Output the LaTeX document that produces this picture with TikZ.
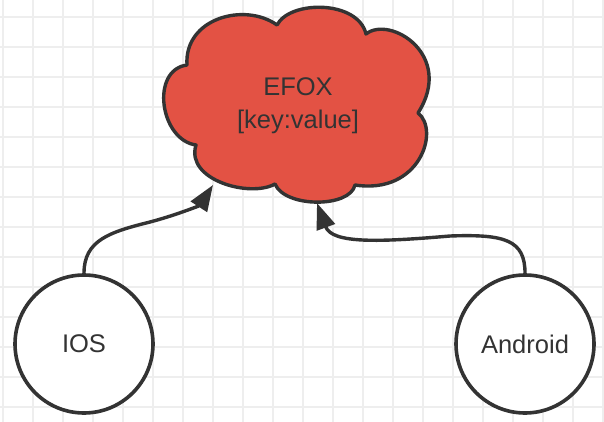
\documentclass[tikz,border=0pt]{standalone}
\usepackage{fontspec}
\setmainfont{Liberation Sans}
\usetikzlibrary{arrows.meta}
\definecolor{efoxred}{RGB}{227,82,68}
\definecolor{inkgray}{RGB}{51,51,51}
\definecolor{gridgray}{RGB}{238,238,238}
\tikzset{
  basenode/.style = {align=center, inner sep=0pt, text centered, text=inkgray,
    font=\fontsize{25.5}{33}\selectfont},
  dev_n/.style = {basenode, circle, draw=inkgray, fill=white, line width=3.6pt,
    minimum size=138pt},% client node
  efox_n/.style = {basenode},% text inside the cloud
  efox_c/.style = {fill=efoxred, draw=inkgray, line width=3.4pt,
    line join=round},% cloud outline
  link/.style = {-{Triangle[length=26pt,width=19pt]}, draw=inkgray,
    line width=3.4pt}% client to store
}

\begin{document}
\begin{tikzpicture}[x=1pt,y=-1pt]
\useasboundingbox (0,0) rectangle (604,422);
\fill[white] (0,0) rectangle (604,422);
% grid
\foreach \gx in {3,33,...,603} \draw[gridgray, line width=1.5pt] (\gx,0) -- (\gx,422);
\foreach \gy in {17,47,...,407} \draw[gridgray, line width=1.5pt] (0,\gy) -- (604,\gy);
\foreach \gx in {33,153,...,513} \draw[gridgray, line width=2.5pt] (\gx,0) -- (\gx,422);
\foreach \gy in {17,137,...,377} \draw[gridgray, line width=2.5pt] (0,\gy) -- (604,\gy);
% cloud
\draw[efox_c] (187,65) .. controls (184,18) and (245,2) .. (277,25)
  .. controls (290,0) and (358,0) .. (366,34)
  .. controls (390,15) and (455,55) .. (418,113)
  .. controls (440,130) and (420,195) .. (355,185)
  .. controls (350,208) and (285,208) .. (275,184)
  .. controls (250,198) and (185,180) .. (196,145)
  .. controls (160,140) and (150,70) .. (187,65) -- cycle;
\node [efox_n] (efox) at (298,106) {EFOX\\{[}key:value{]}};
\coordinate (efox_sw) at (213,185);
\coordinate (efox_s) at (317,203);
% clients
\node [dev_n] (ios) at (84,344) {IOS};
\node [dev_n] (android) at (525,344) {Android};
\draw [link] (ios.north) .. controls (84,240) and (110,232) .. (150,222)
  .. controls (180,214) and (200,205) .. (efox_sw);
\draw [link] (android.north) .. controls (525,240) and (505,234) .. (450,236)
  .. controls (380,242) and (332,244) .. (efox_s);
\end{tikzpicture}
\end{document}
